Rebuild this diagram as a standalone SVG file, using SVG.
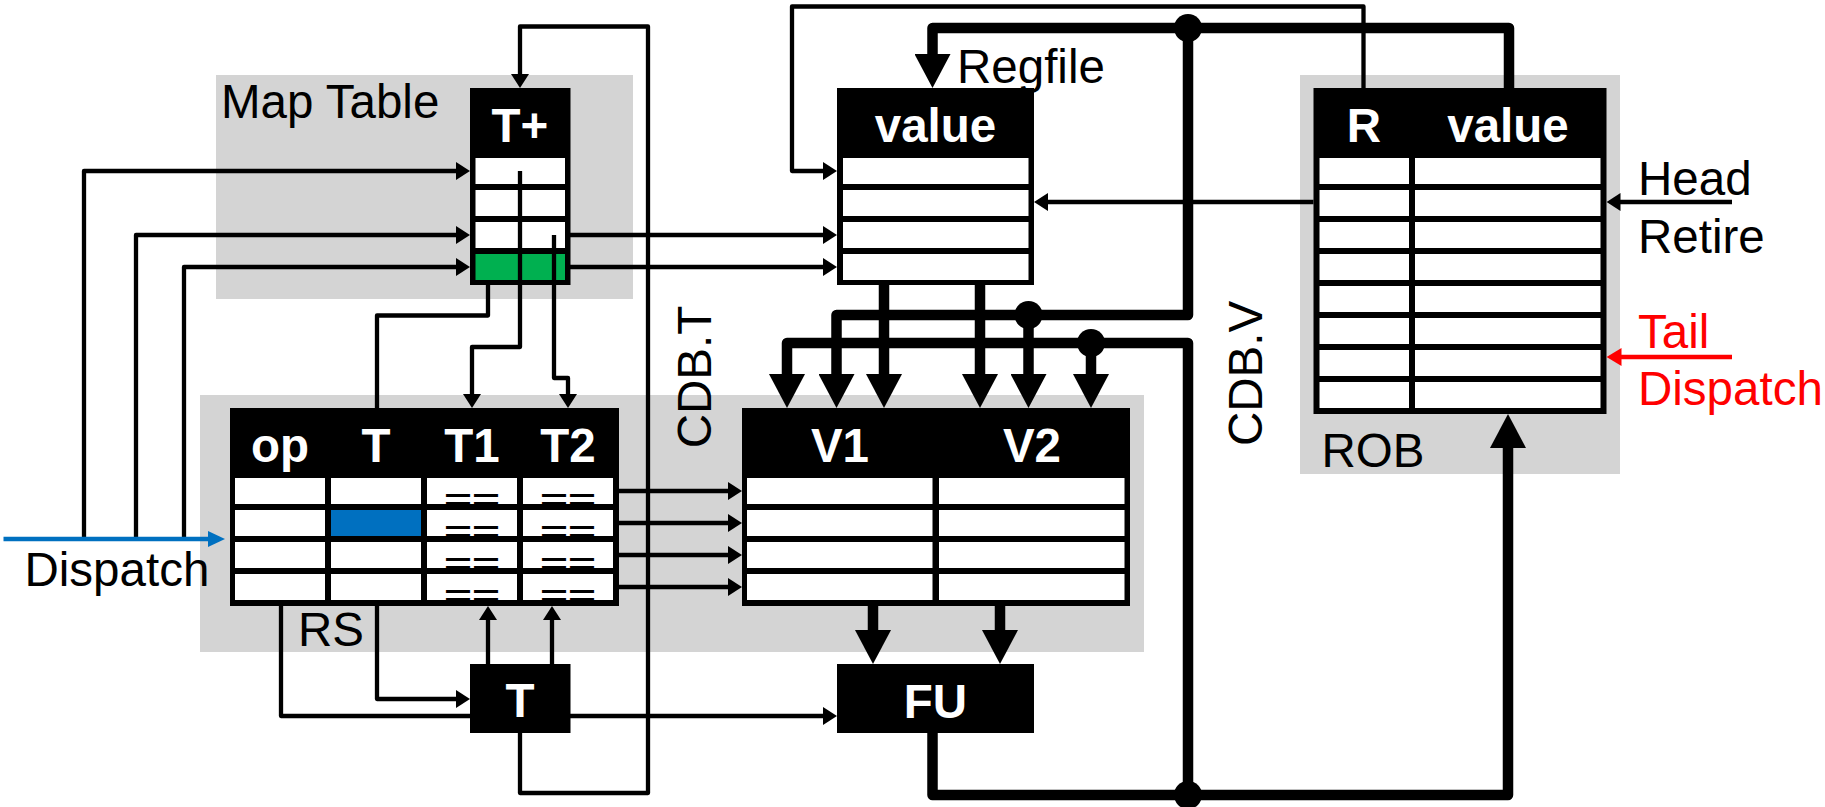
<svg xmlns="http://www.w3.org/2000/svg" width="1825" height="807" viewBox="0 0 1825 807">
<style>
text{font-family:"Liberation Sans",Arial,sans-serif;font-size:47.5px;fill:#000}
.h{font-weight:bold;fill:#fff;text-anchor:middle}
.eq{font-weight:bold;font-size:28.5px;text-anchor:middle;fill:#000}
.red{fill:#ff0000}
.bg{fill:#d4d4d4}
.blk{fill:#000}
.cell{fill:#fff}
.w{fill:none;stroke:#000;stroke-width:4.3;stroke-linejoin:round}
.t{fill:none;stroke:#000;stroke-width:10.5;stroke-linejoin:round}
</style>
<defs>
<marker id="s" markerUnits="userSpaceOnUse" markerWidth="14" markerHeight="18" refX="8" refY="9" orient="auto"><path d="M0,0 L14,9 L0,18 z" fill="#000"/></marker>
<marker id="sb" markerUnits="userSpaceOnUse" markerWidth="17" markerHeight="16" refX="11" refY="8" orient="auto"><path d="M0,0 L17,8 L0,16 z" fill="#0070c0"/></marker>
<marker id="sr" markerUnits="userSpaceOnUse" markerWidth="15" markerHeight="18" refX="9" refY="9" orient="auto"><path d="M0,0 L15,9 L0,18 z" fill="#ff0000"/></marker>
<marker id="b" markerUnits="userSpaceOnUse" markerWidth="34" markerHeight="36" refX="19" refY="18" orient="auto"><path d="M0,0 L34,18 L0,36 z" fill="#000"/></marker>
</defs>

<g id="backgrounds">
<rect class="bg" x="216" y="75" width="417" height="224"/>
<rect class="bg" x="200" y="395" width="944" height="257"/>
<rect class="bg" x="1300" y="75" width="320" height="399"/>
</g>

<g id="connectors">
<path class="w" d="M84,539 V171 H464" marker-end="url(#s)"/>
<path class="w" d="M136,539 V235 H464" marker-end="url(#s)"/>
<path class="w" d="M184,539 V267 H464" marker-end="url(#s)"/>
<path class="w" d="M520,733 V793 H648 V26.5 H520 V82" marker-end="url(#s)"/>
<path class="w" d="M520,171 V347 H472 V402" marker-end="url(#s)"/>
<path class="w" d="M554,235 V378 H568 V402" marker-end="url(#s)"/>
<path class="w" d="M377,408 V315.5 H488 V274" marker-end="url(#s)"/>
<path class="w" d="M570,235 H831" marker-end="url(#s)"/>
<path class="w" d="M570,267 H831" marker-end="url(#s)"/>
<path class="w" d="M1363.5,88 V6.5 H792 V171 H831" marker-end="url(#s)"/>
<path class="w" d="M1313.5,202 H1040" marker-end="url(#s)"/>
<path class="w" d="M1732,202 H1612.5" marker-end="url(#s)"/>
<path class="w" d="M619,491 H736" marker-end="url(#s)"/>
<path class="w" d="M619,523 H736" marker-end="url(#s)"/>
<path class="w" d="M619,555 H736" marker-end="url(#s)"/>
<path class="w" d="M619,587 H736" marker-end="url(#s)"/>
<path class="w" d="M281,606 V716 H831" marker-end="url(#s)"/>
<path class="w" d="M377,606 V699 H464" marker-end="url(#s)"/>
<path class="w" d="M488,664 V612" marker-end="url(#s)"/>
<path class="w" d="M552,664 V612" marker-end="url(#s)"/>
<path fill="none" stroke="#0070c0" stroke-width="4.3" d="M3.5,539 H219" marker-end="url(#sb)"/>
<path fill="none" stroke="#ff0000" stroke-width="4.5" d="M1732,357 H1612.5" marker-end="url(#sr)"/>
<path class="t" d="M1509,88 V28 H932.5 V73" marker-end="url(#b)"/>
<path class="t" d="M1188,28 V315 H836.5 V393" marker-end="url(#b)"/>
<path class="t" d="M1028.5,315 V393" marker-end="url(#b)"/>
<path class="t" d="M1188,795 V343 H787 V393" marker-end="url(#b)"/>
<path class="t" d="M1091,343 V393" marker-end="url(#b)"/>
<path class="t" d="M884,285 V393" marker-end="url(#b)"/>
<path class="t" d="M980,285 V393" marker-end="url(#b)"/>
<path class="t" d="M873,606 V649" marker-end="url(#b)"/>
<path class="t" d="M1000,606 V649" marker-end="url(#b)"/>
<path class="t" d="M932.5,733 V795 H1508 V429" marker-end="url(#b)"/>
<circle cx="1188" cy="28" r="14"/>
<circle cx="1028.5" cy="315" r="14"/>
<circle cx="1091" cy="343" r="14"/>
<circle cx="1188" cy="795" r="14"/>
</g>

<g id="maptable">
<rect class="blk" x="470" y="88" width="100.5" height="197"/>
<rect class="cell" x="475.5" y="158" width="89.5" height="26"/>
<rect class="cell" x="475.5" y="190" width="89.5" height="26"/>
<rect class="cell" x="475.5" y="222" width="89.5" height="26"/>
<rect x="475.5" y="254" width="89.5" height="26" fill="#00b050"/>
<path class="w" d="M520,171 V285 M554,235 V285"/>
<text class="h" x="520" y="142">T+</text>
<text x="221" y="118">Map Table</text>
</g>

<g id="regfile">
<rect class="blk" x="837" y="88" width="197" height="197"/>
<rect class="cell" x="843" y="158" width="185.5" height="26"/>
<rect class="cell" x="843" y="190" width="185.5" height="26"/>
<rect class="cell" x="843" y="222" width="185.5" height="26"/>
<rect class="cell" x="843" y="254" width="185.5" height="26"/>
<text class="h" x="935.5" y="142">value</text>
<text x="957" y="83">Regfile</text>
</g>

<g id="rob">
<rect class="blk" x="1313.5" y="88" width="293" height="326"/>
<g class="cell">
<rect x="1319.5" y="158" width="89.5" height="26"/><rect x="1415" y="158" width="185.5" height="26"/>
<rect x="1319.5" y="190" width="89.5" height="26"/><rect x="1415" y="190" width="185.5" height="26"/>
<rect x="1319.5" y="222" width="89.5" height="26"/><rect x="1415" y="222" width="185.5" height="26"/>
<rect x="1319.5" y="254" width="89.5" height="26"/><rect x="1415" y="254" width="185.5" height="26"/>
<rect x="1319.5" y="286" width="89.5" height="26"/><rect x="1415" y="286" width="185.5" height="26"/>
<rect x="1319.5" y="318" width="89.5" height="26"/><rect x="1415" y="318" width="185.5" height="26"/>
<rect x="1319.5" y="350" width="89.5" height="26"/><rect x="1415" y="350" width="185.5" height="26"/>
<rect x="1319.5" y="382" width="89.5" height="26"/><rect x="1415" y="382" width="185.5" height="26"/>
</g>
<text class="h" x="1364" y="142">R</text>
<text class="h" x="1508" y="142">value</text>
<text x="1321.5" y="467">ROB</text>
<text x="1638" y="195">Head</text>
<text x="1638" y="253">Retire</text>
<text class="red" x="1638" y="348">Tail</text>
<text class="red" x="1638" y="405">Dispatch</text>
</g>

<g id="rs">
<rect class="blk" x="230" y="408" width="389" height="198"/>
<g class="cell">
<rect x="235" y="478" width="90" height="26"/><rect x="331" y="478" width="90" height="26"/><rect x="427" y="478" width="90" height="26"/><rect x="523" y="478" width="90" height="26"/>
<rect x="235" y="510" width="90" height="26"/><rect x="331" y="510" width="90" height="26" fill="#0070c0"/><rect x="427" y="510" width="90" height="26"/><rect x="523" y="510" width="90" height="26"/>
<rect x="235" y="542" width="90" height="26"/><rect x="331" y="542" width="90" height="26"/><rect x="427" y="542" width="90" height="26"/><rect x="523" y="542" width="90" height="26"/>
<rect x="235" y="574" width="90" height="26"/><rect x="331" y="574" width="90" height="26"/><rect x="427" y="574" width="90" height="26"/><rect x="523" y="574" width="90" height="26"/>
</g>
<text class="eq" x="472" y="508.5" textLength="56" lengthAdjust="spacingAndGlyphs">==</text>
<text class="eq" x="568" y="508.5" textLength="56" lengthAdjust="spacingAndGlyphs">==</text>
<text class="eq" x="472" y="540.5" textLength="56" lengthAdjust="spacingAndGlyphs">==</text>
<text class="eq" x="568" y="540.5" textLength="56" lengthAdjust="spacingAndGlyphs">==</text>
<text class="eq" x="472" y="572.5" textLength="56" lengthAdjust="spacingAndGlyphs">==</text>
<text class="eq" x="568" y="572.5" textLength="56" lengthAdjust="spacingAndGlyphs">==</text>
<text class="eq" x="472" y="604.5" textLength="56" lengthAdjust="spacingAndGlyphs">==</text>
<text class="eq" x="568" y="604.5" textLength="56" lengthAdjust="spacingAndGlyphs">==</text>
<text class="h" x="280" y="462">op</text>
<text class="h" x="376" y="462">T</text>
<text class="h" x="472" y="462">T1</text>
<text class="h" x="568" y="462">T2</text>
<text x="298" y="646">RS</text>
<text x="24.5" y="586">Dispatch</text>
</g>

<g id="vtable">
<rect class="blk" x="742" y="408" width="388" height="198"/>
<g class="cell">
<rect x="747" y="478" width="185.5" height="26"/><rect x="939" y="478" width="185.5" height="26"/>
<rect x="747" y="510" width="185.5" height="26"/><rect x="939" y="510" width="185.5" height="26"/>
<rect x="747" y="542" width="185.5" height="26"/><rect x="939" y="542" width="185.5" height="26"/>
<rect x="747" y="574" width="185.5" height="26"/><rect x="939" y="574" width="185.5" height="26"/>
</g>
<text class="h" x="840" y="462">V1</text>
<text class="h" x="1032" y="462">V2</text>
</g>

<g id="tbox">
<rect class="blk" x="470" y="664" width="100.5" height="69"/>
<text class="h" x="520" y="717">T</text>
</g>

<g id="fu">
<rect class="blk" x="837" y="664" width="197" height="69"/>
<text class="h" x="935.5" y="718">FU</text>
</g>

<g id="buslabels">
<text transform="translate(711,377) rotate(-90)" text-anchor="middle">CDB.T</text>
<text transform="translate(1262,373.5) rotate(-90)" text-anchor="middle">CDB.V</text>
</g>
</svg>
